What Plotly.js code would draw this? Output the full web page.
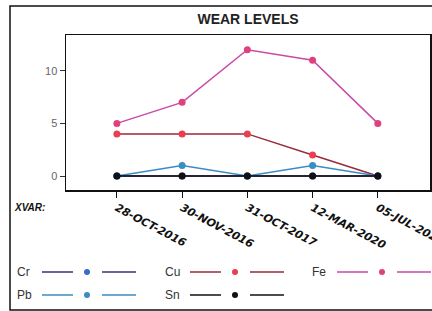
<!DOCTYPE html>
<html><head><meta charset="utf-8">
<script src="https://cdn.plot.ly/plotly-3.0.1.min.js"></script>
<style>html,body{margin:0;padding:0;background:#fff}#c{width:432px;height:311px}</style>
</head><body><div id="c"></div>
<script>
const dates = ["28-OCT-2016","30-NOV-2016","31-OCT-2017","12-MAR-2020","05-JUL-2020"];
const fe = [5, 7, 12, 11, 5];
const cu = [4, 4, 4, 2, 0];
const pb = [0, 1, 0, 1, 0];
const cr = [0, 0, 0, 0, 0];
const sn = [0, 0, 0, 0, 0];
const seriesNames = ["Cr","Pb","Cu","Sn","Fe"];

const W=432,H=311, L=66, R=430, T=35, B=190;
const px = x => (x-L)/(R-L);
const py = y => (B-y)/(B-T);

const styles = {
  Cr:{line:"#33337a", marker:"#3d6cc4"},
  Pb:{line:"#3a8cc4", marker:"#3a8cc4"},
  Cu:{line:"#9a2a3a", marker:"#e8404f"},
  Sn:{line:"#111111", marker:"#111111"},
  Fe:{line:"#c84aa8", marker:"#e0407e"}
};
const dataMap = {Cr:cr,Pb:pb,Cu:cu,Sn:sn,Fe:fe};
const order = ["Fe","Cu","Pb","Cr","Sn"];
const traces = order.map(n => ({
  x: dates, y: dataMap[n], type:"scatter", mode:"lines+markers", name:n,
  line:{color:styles[n].line, width:1.5},
  marker:{color:styles[n].marker, size:7}
}));

const shapes = [
  {type:"rect", xref:"paper", yref:"paper", x0:px(10), x1:px(445), y0:py(310), y1:py(6),
   line:{color:"#111", width:1.5}, fillcolor:"rgba(0,0,0,0)", layer:"below"}
];
const annotations = [
  {xref:"paper", yref:"paper", x:px(12), y:py(207), text:"<b><i>XVAR:</i></b>", showarrow:false,
   xanchor:"left", yanchor:"middle", font:{family:"Liberation Sans, Arial", size:10, color:"#111"}},
];
// custom legend
const legendItems = [
  {n:"Cr", x:15, y:272}, {n:"Cu", x:163, y:272}, {n:"Fe", x:310, y:272},
  {n:"Pb", x:15, y:295}, {n:"Sn", x:163, y:295}
];
legendItems.forEach(it => {
  const s = styles[it.n];
  annotations.push({xref:"paper", yref:"paper", x:px(it.x), y:py(it.y), text:it.n, showarrow:false,
    xanchor:"left", yanchor:"middle", font:{family:"Liberation Sans, Arial", size:12, color:"#333"}});
  shapes.push({type:"line", xref:"paper", yref:"paper", x0:px(it.x+27), x1:px(it.x+58), y0:py(it.y), y1:py(it.y), line:{color:s.line, width:1.5}});
  shapes.push({type:"line", xref:"paper", yref:"paper", x0:px(it.x+87), x1:px(it.x+121), y0:py(it.y), y1:py(it.y), line:{color:s.line, width:1.5}});
  shapes.push({type:"circle", xref:"paper", yref:"paper", x0:px(it.x+69), x1:px(it.x+75), y0:py(it.y+3), y1:py(it.y-3), line:{color:s.marker, width:0}, fillcolor:s.marker});
});

const layout = {
  width:W, height:H, paper_bgcolor:"#fff", plot_bgcolor:"#fff",
  margin:{l:L, r:W-R, t:T, b:H-B, pad:0},
  showlegend:false,
  title:{text:"<b>WEAR LEVELS</b>", x:(L+R)/2/W, xanchor:"center", y:1-19/H, yanchor:"middle",
    font:{family:"Liberation Sans, Arial", size:14, color:"#222"}},
  xaxis:{type:"category", range:[-0.78,4.8], showgrid:false, zeroline:false, showline:true, mirror:true,
    linecolor:"#111", linewidth:1.5, ticks:"outside", ticklen:6, tickcolor:"#111", tickangle:28,
    tickvals:dates, ticktext:dates.map(d => "<b><i>"+d+"</i></b>"),
    tickfont:{family:"DejaVu Sans", size:11, color:"#111"}},
  yaxis:{range:[-1.33,13.4], tickvals:[0,5,10], showgrid:false, zeroline:false, showline:true, mirror:true,
    linecolor:"#111", linewidth:1.5, ticks:"outside", ticklen:5, tickcolor:"#333",
    tickfont:{family:"Liberation Sans, Arial", size:11, color:"#666"}},
  shapes, annotations
};
Plotly.newPlot("c", traces, layout, {staticPlot:true});
</script></body></html>
